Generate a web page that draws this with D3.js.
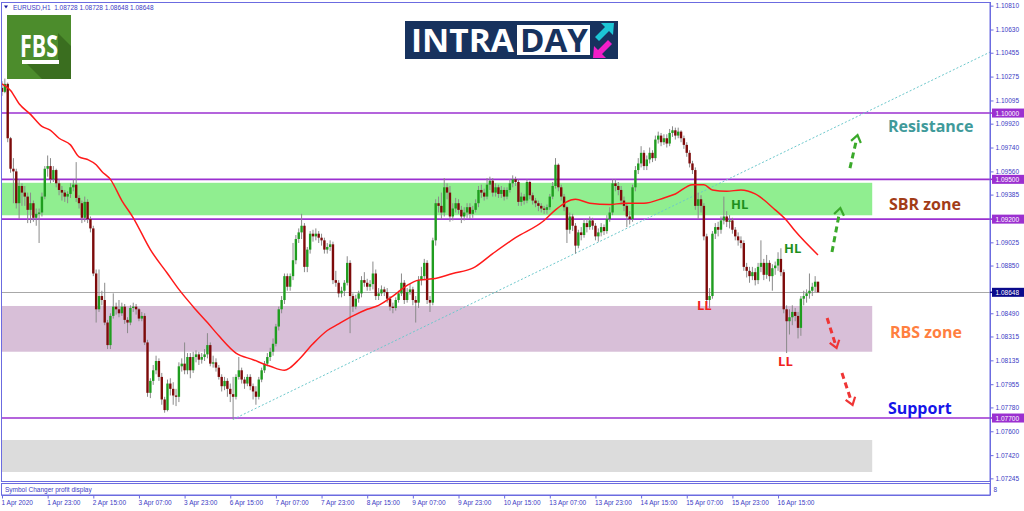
<!DOCTYPE html>
<html><head><meta charset="utf-8">
<script src="https://cdn.jsdelivr.net/npm/d3@7"></script>
<style>html,body{margin:0;padding:0;background:#fff}svg{display:block}</style>
</head><body>
<svg id="chart" width="1024" height="511"></svg>
<script>
// ---------------- DATA ----------------
const symbolTitle = "EURUSD,H1  1.08728 1.08728 1.08648 1.08648";
const subWindowTitle = "Symbol Changer profit display";
const subWindowScale = "8";
const firstOpen = 1.1019;
const closes = [
1.1016,1.1022,1.0981,1.0958,1.0956,1.0932,1.0945,1.0940,1.0937,1.0927,
1.0932,1.0921,1.0924,1.0925,1.0937,1.0958,1.0960,1.0950,1.0957,1.0947,
1.0942,1.0940,1.0937,1.0939,1.0944,1.0946,1.0936,1.0932,1.0921,1.0933,
1.0920,1.0913,1.0879,1.0852,1.0862,1.0859,1.0842,1.0825,1.0847,1.0854,
1.0852,1.0849,1.0854,1.0844,1.0842,1.0853,1.0854,1.0852,1.0845,1.0847,
1.0827,1.0789,1.0798,1.0806,1.0813,1.0801,1.0784,1.0776,1.0796,1.0792,
1.0787,1.0786,1.0809,1.0811,1.0806,1.0816,1.0806,1.0816,1.0818,1.0814,
1.0816,1.0818,1.0825,1.0811,1.0812,1.0808,1.0801,1.0794,1.0798,1.0792,
1.0788,1.0786,1.0801,1.0806,1.0799,1.0796,1.0801,1.0794,1.0790,1.0786,
1.0799,1.0806,1.0811,1.0816,1.0820,1.0826,1.0839,1.0852,1.0859,1.0877,
1.0869,1.0877,1.0889,1.0905,1.0910,1.0915,1.0884,1.0897,1.0909,1.0907,
1.0909,1.0906,1.0904,1.0897,1.0899,1.0901,1.0874,1.0872,1.0864,1.0866,
1.0872,1.0887,1.0862,1.0854,1.0860,1.0864,1.0874,1.0872,1.0869,1.0871,
1.0879,1.0862,1.0864,1.0867,1.0865,1.0860,1.0854,1.0853,1.0859,1.0864,
1.0872,1.0859,1.0865,1.0867,1.0859,1.0857,1.0874,1.0877,1.0887,1.0859,
1.0857,1.0904,1.0932,1.0930,1.0925,1.0944,1.0940,1.0922,1.0928,1.0932,
1.0927,1.0922,1.0925,1.0929,1.0924,1.0927,1.0932,1.0942,1.0940,1.0937,
1.0946,1.0949,1.0940,1.0944,1.0939,1.0942,1.0937,1.0942,1.0947,1.0950,
1.0948,1.0933,1.0937,1.0934,1.0948,1.0938,1.0934,1.0932,1.0930,1.0928,
1.0927,1.0929,1.0937,1.0945,1.0961,1.0944,1.0937,1.0929,1.0912,1.0922,
1.0915,1.0900,1.0910,1.0908,1.0917,1.0914,1.0919,1.0915,1.0907,1.0910,
1.0914,1.0911,1.0920,1.0925,1.0947,1.0945,1.0942,1.0934,1.0930,1.0922,
1.0920,1.0944,1.0957,1.0962,1.0970,1.0960,1.0965,1.0970,1.0966,1.0980,
1.0983,1.0978,1.0981,1.0977,1.0985,1.0987,1.0983,1.0986,1.0981,1.0976,
1.0970,1.0962,1.0957,1.0930,1.0935,1.0930,1.0907,1.0859,1.0862,1.0909,
1.0914,1.0912,1.0919,1.0922,1.0918,1.0919,1.0912,1.0907,1.0904,1.0902,
1.0884,1.0881,1.0877,1.0880,1.0874,1.0884,1.0887,1.0878,1.0887,1.0877,
1.0883,1.0885,1.0890,1.0880,1.0852,1.0843,1.0846,1.0850,1.0847,1.0838,
1.0860,1.0862,1.0864,1.0866,1.0869,1.08728,1.08648];
const highs = [
1.1024,1.1026,1.1023,1.0982,1.0966,1.0958,1.0950,1.0947,1.0945,1.0940,
1.0940,1.0934,1.0928,1.0928,1.0940,1.0960,1.0968,1.0966,1.0960,1.0958,
1.0950,1.0945,1.0942,1.0941,1.0947,1.0950,1.0963,1.0938,1.0934,1.0937,
1.0935,1.0922,1.0915,1.0882,1.0882,1.0866,1.0872,1.0844,1.0849,1.0864,
1.0857,1.0859,1.0857,1.0856,1.0846,1.0855,1.0857,1.0856,1.0853,1.0850,
1.0849,1.0829,1.0800,1.0810,1.0817,1.0815,1.0804,1.0786,1.0799,1.0800,
1.0797,1.0792,1.0812,1.0815,1.0827,1.0819,1.0819,1.0820,1.0821,1.0820,
1.0819,1.0822,1.0834,1.0827,1.0817,1.0815,1.0810,1.0803,1.0801,1.0800,
1.0796,1.0801,1.0803,1.0816,1.0808,1.0801,1.0803,1.0803,1.0796,1.0794,
1.0801,1.0808,1.0813,1.0819,1.0823,1.0830,1.0841,1.0854,1.0862,1.0879,
1.0879,1.0879,1.0902,1.0908,1.0913,1.0924,1.0917,1.0899,1.0911,1.0912,
1.0913,1.0911,1.0909,1.0906,1.0902,1.0904,1.0903,1.0881,1.0874,1.0869,
1.0874,1.0892,1.0889,1.0864,1.0863,1.0866,1.0877,1.0880,1.0875,1.0874,
1.0888,1.0882,1.0868,1.0870,1.0869,1.0868,1.0862,1.0857,1.0861,1.0866,
1.0879,1.0874,1.0868,1.0871,1.0869,1.0862,1.0877,1.0884,1.0890,1.0889,
1.0862,1.0906,1.0935,1.0937,1.0940,1.0951,1.0947,1.0945,1.0932,1.0936,
1.0935,1.0930,1.0929,1.0932,1.0932,1.0930,1.0935,1.0945,1.0946,1.0943,
1.0951,1.0952,1.0951,1.0947,1.0946,1.0945,1.0944,1.0944,1.0950,1.0953,
1.0952,1.0950,1.0940,1.0939,1.0950,1.0949,1.0940,1.0936,1.0934,1.0932,
1.0930,1.0931,1.0939,1.0948,1.0966,1.0962,1.0946,1.0939,1.0930,1.0925,
1.0924,1.0917,1.0912,1.0914,1.0920,1.0920,1.0922,1.0921,1.0917,1.0913,
1.0917,1.0916,1.0923,1.0929,1.0950,1.0950,1.0948,1.0945,1.0937,1.0932,
1.0926,1.0946,1.0960,1.0966,1.0975,1.0972,1.0968,1.0974,1.0972,1.0983,
1.0986,1.0985,1.0984,1.0984,1.0988,1.0990,1.0989,1.0989,1.0987,1.0983,
1.0978,1.0972,1.0964,1.0959,1.0940,1.0938,1.0932,1.0909,1.0868,1.0911,
1.0917,1.0918,1.0922,1.0937,1.0926,1.0923,1.0921,1.0914,1.0910,1.0907,
1.0904,1.0887,1.0884,1.0884,1.0883,1.0887,1.0904,1.0890,1.0893,1.0889,
1.0886,1.0888,1.0895,1.0898,1.0882,1.0855,1.0852,1.0855,1.0853,1.0850,
1.0862,1.0866,1.0867,1.0879,1.0872,1.0877,1.08728];
const lows = [
1.1013,1.1015,1.0978,1.0955,1.0932,1.0928,1.0920,1.0930,1.0930,1.0917,
1.0917,1.0918,1.0915,1.0902,1.0922,1.0935,1.0952,1.0947,1.0948,1.0944,
1.0938,1.0934,1.0933,1.0932,1.0936,1.0941,1.0933,1.0928,1.0917,1.0918,
1.0917,1.0910,1.0877,1.0842,1.0850,1.0855,1.0840,1.0822,1.0822,1.0845,
1.0848,1.0846,1.0847,1.0841,1.0834,1.0840,1.0850,1.0848,1.0843,1.0843,
1.0825,1.0786,1.0785,1.0795,1.0803,1.0798,1.0780,1.0774,1.0775,1.0787,
1.0780,1.0779,1.0782,1.0805,1.0803,1.0803,1.0800,1.0804,1.0812,1.0810,
1.0811,1.0813,1.0815,1.0809,1.0808,1.0805,1.0799,1.0790,1.0791,1.0786,
1.0782,1.0769,1.0784,1.0799,1.0796,1.0792,1.0794,1.0791,1.0784,1.0780,
1.0784,1.0797,1.0804,1.0809,1.0813,1.0817,1.0824,1.0836,1.0849,1.0856,
1.0866,1.0866,1.0874,1.0886,1.0902,1.0905,1.0880,1.0880,1.0894,1.0903,
1.0904,1.0902,1.0900,1.0894,1.0894,1.0896,1.0871,1.0869,1.0861,1.0861,
1.0862,1.0870,1.0834,1.0850,1.0852,1.0857,1.0861,1.0869,1.0866,1.0866,
1.0867,1.0859,1.0859,1.0862,1.0862,1.0857,1.0851,1.0849,1.0851,1.0857,
1.0862,1.0856,1.0857,1.0863,1.0855,1.0842,1.0853,1.0870,1.0874,1.0856,
1.0850,1.0855,1.0900,1.0925,1.0920,1.0922,1.0935,1.0918,1.0919,1.0925,
1.0924,1.0917,1.0919,1.0921,1.0920,1.0921,1.0925,1.0929,1.0936,1.0934,
1.0935,1.0942,1.0937,1.0937,1.0936,1.0936,1.0934,1.0935,1.0940,1.0944,
1.0945,1.0930,1.0930,1.0931,1.0932,1.0935,1.0931,1.0929,1.0926,1.0925,
1.0924,1.0924,1.0927,1.0935,1.0943,1.0941,1.0934,1.0926,1.0902,1.0909,
1.0911,1.0894,1.0898,1.0904,1.0906,1.0910,1.0912,1.0912,1.0904,1.0903,
1.0907,1.0908,1.0909,1.0918,1.0923,1.0941,1.0938,1.0931,1.0926,1.0914,
1.0916,1.0918,1.0941,1.0954,1.0959,1.0957,1.0957,1.0962,1.0963,1.0964,
1.0977,1.0975,1.0976,1.0974,1.0975,1.0982,1.0980,1.0981,1.0978,1.0973,
1.0967,1.0959,1.0954,1.0927,1.0920,1.0925,1.0904,1.0856,1.0853,1.0860,
1.0905,1.0907,1.0909,1.0916,1.0914,1.0913,1.0909,1.0904,1.0900,1.0898,
1.0881,1.0876,1.0872,1.0874,1.0870,1.0871,1.0880,1.0874,1.0875,1.0873,
1.0866,1.0878,1.0881,1.0877,1.0849,1.0819,1.0833,1.0840,1.0843,1.0830,
1.0832,1.0855,1.0857,1.0860,1.0862,1.0865,1.08648];

// moving average (red line), read at selected bars
const maBars   = [0,3,6,10,14,17,20,24,27,30,33,35,38,42,46,52,58,62,67,72,76,82,88,94,99,101,104,109,114,118,123,128,132,137,142,146,151,158,165,172,180,190,194,201,206,213,218,225,232,236,242,246,249,254,259,264,271,275,278,286];
const maValues = [1.1022,1.1017,1.1007,1.0999,1.0990,1.0987,1.0981,1.0976,1.0967,1.0965,1.0961,1.0956,1.0950,1.0934,1.0921,1.0897,1.0879,1.0867,1.0854,1.0842,1.0832,1.0819,1.0814,1.0809,1.0806,1.0808,1.0814,1.0826,1.0836,1.0841,1.0847,1.0852,1.0855,1.0862,1.0870,1.0874,1.0875,1.0879,1.0883,1.0894,1.0906,1.0919,1.0927,1.0935,1.0932,1.0931,1.0932,1.0932,1.0936,1.0939,1.0946,1.0946,1.0942,1.0941,1.0942,1.0939,1.0927,1.0919,1.0911,1.0893];

// horizontal levels
const levelValues = [1.10000, 1.09500, 1.09200, 1.07700];
const lastPrice = 1.08648;

// zones (price bands) and their right end (bar index)
const zoneNames = ["SBR", "RBS", "Grey"];
const zoneLow   = [1.09229, 1.08200, 1.07293];
const zoneHigh  = [1.09474, 1.08545, 1.07534];
const zoneEndBar = 305;

// trend line (dotted) – two anchor points in bar/price
const trendBars = [81, 290];
const trendPrices = [1.07690, 1.09872];

// price scale ticks (those hidden behind the coloured boxes are left out)
const priceTicks = [1.10810,1.10630,1.10455,1.10275,1.10095,1.09920,1.09740,1.09560,1.09385,1.09025,1.08850,1.08490,1.08315,1.08135,1.07955,1.07780,1.07600,1.07420,1.07245];

// time axis ticks
const timeTickBars = [0,16,32,48,64,80,96,112,128,144,160,176,192,208,224,240,256,272];
const timeTickLabels = ["1 Apr 2020","1 Apr 23:00","2 Apr 15:00","3 Apr 07:00","3 Apr 23:00","6 Apr 15:00","7 Apr 07:00","7 Apr 23:00","8 Apr 15:00","9 Apr 07:00","9 Apr 23:00","10 Apr 15:00","13 Apr 07:00","13 Apr 23:00","14 Apr 15:00","15 Apr 07:00","15 Apr 23:00","16 Apr 15:00"];

// annotations (text anchored at bar / price)
const annoTexts  = ["Resistance","SBR zone","RBS zone","Support","HL","HL","LL","LL"];
const annoBars   = [310.5, 310.9, 311.2, 310.5, 255.5, 274.1, 243.6, 272.0];
const annoPrices = [1.09902, 1.09314, 1.08349, 1.07775, 1.09314, 1.08982, 1.08552, 1.08130];

// dashed scenario arrows
const arrowKinds       = ["up","up","down","down"];
const arrowStartBars   = [297.2, 290.9, 289.2, 294.4];
const arrowStartPrices = [1.09585, 1.08952, 1.08454, 1.08039];
const arrowEndBars     = [299.7, 293.7, 292.3, 297.9];
const arrowEndPrices   = [1.09819, 1.09269, 1.08243, 1.07813];

// ---------------- STYLE ----------------
const C = {
  frame:"#6b6be0", axisText:"#3b3bc4", bull:"#1f9d1f", bear:"#7d0a0a", wick:"#8a8a8a",
  level:"#9b30d0", lastBox:"#0a0a8c", lastLine:"#a8a8a8", ma:"#ff1a1a", trend:"#6cc8cc",
  zone:["#90ee90","#d8bfd8","#dcdcdc"],
  anno:["#409a9a","#a23c17","#ff7f40","#1515e8","#1e8f1e","#1e8f1e","#f02020","#f02020"],
  annoSize:[16,16,16,16,13,13,13,13],
  arrowUp:"#3aa92a", arrowDown:"#ef3535"
};

// ---------------- LAYOUT ----------------
const P = {left:2, right:990, top:3, bottom:481, subBottom:495};
const lastBar = closes.length - 1;
const x = d3.scaleLinear().domain([0, lastBar]).range([2, 818]);
const y = d3.scaleLinear().domain([1.07225, 1.10830]).range([P.bottom, P.top]);

const svg = d3.select("#chart");
svg.append("defs").append("clipPath").attr("id","plot")
  .append("rect").attr("x",P.left).attr("y",P.top).attr("width",P.right-P.left).attr("height",P.bottom-P.top);

const g = svg.append("g").attr("clip-path","url(#plot)");

// zones
g.selectAll("rect.zone").data(zoneNames).enter().append("rect")
  .attr("class","zone")
  .attr("x", P.left).attr("width", (d,i)=>x(zoneEndBar)-P.left)
  .attr("y", (d,i)=>y(zoneHigh[i])).attr("height",(d,i)=>y(zoneLow[i])-y(zoneHigh[i]))
  .attr("fill",(d,i)=>C.zone[i]);

// last price line
g.append("line").attr("x1",P.left).attr("x2",P.right)
  .attr("y1",Math.round(y(lastPrice))+0.5).attr("y2",Math.round(y(lastPrice))+0.5)
  .attr("stroke",C.lastLine).attr("stroke-width",1);

// levels
g.selectAll("line.level").data(levelValues).enter().append("line")
  .attr("x1",P.left).attr("x2",P.right)
  .attr("y1",d=>y(d)).attr("y2",d=>y(d))
  .attr("stroke",C.level).attr("stroke-width",1.6);

// trend line (ray)
const tSlope = (trendPrices[1]-trendPrices[0])/(trendBars[1]-trendBars[0]);
const tEndBar = x.invert(P.right);
g.append("line")
  .attr("x1",x(trendBars[0])).attr("y1",y(trendPrices[0]))
  .attr("x2",x(tEndBar)).attr("y2",y(trendPrices[0]+tSlope*(tEndBar-trendBars[0])))
  .attr("stroke",C.trend).attr("stroke-width",1).attr("stroke-dasharray","2,2");

// candles
const opens = closes.map((c,i)=> i===0 ? firstOpen : closes[i-1]);
const idx = d3.range(closes.length);
const cg = g.append("g");
cg.selectAll("line.wick").data(idx).enter().append("line")
  .attr("x1",i=>x(i)).attr("x2",i=>x(i))
  .attr("y1",i=>y(Math.max(highs[i],opens[i],closes[i])))
  .attr("y2",i=>y(Math.min(lows[i],opens[i],closes[i])))
  .attr("stroke",C.wick).attr("stroke-width",1);
cg.selectAll("rect.body").data(idx).enter().append("rect")
  .attr("x",i=>x(i)-1.2).attr("width",2.4)
  .attr("y",i=>y(Math.max(opens[i],closes[i])))
  .attr("height",i=>Math.max(1,Math.abs(y(opens[i])-y(closes[i]))))
  .attr("fill",i=>closes[i]>=opens[i]?C.bull:C.bear);

// moving average
g.append("path").datum(d3.range(maBars.length))
  .attr("d",d3.line().x(i=>x(maBars[i])).y(i=>y(maValues[i])).curve(d3.curveMonotoneX))
  .attr("fill","none").attr("stroke",C.ma).attr("stroke-width",1.5);

// annotation texts
g.selectAll("text.anno").data(annoTexts).enter().append("text")
  .attr("x",(d,i)=>x(annoBars[i])).attr("y",(d,i)=>y(annoPrices[i]))
  .attr("dominant-baseline","central")
  .attr("font-family","'Open Sans', 'Noto Sans', sans-serif").attr("font-weight",700)
  .attr("font-size",(d,i)=>C.annoSize[i]).attr("fill",(d,i)=>C.anno[i])
  .text(d=>d);

// arrows
arrowKinds.forEach((k,i)=>{
  const x1=x(arrowStartBars[i]), y1=y(arrowStartPrices[i]), x2=x(arrowEndBars[i]), y2=y(arrowEndPrices[i]);
  const col = k==="up"?C.arrowUp:C.arrowDown;
  const dx=x2-x1, dy=y2-y1, L=Math.hypot(dx,dy), ux=dx/L, uy=dy/L, nx=-uy, ny=ux;
  g.append("line").attr("x1",x1).attr("y1",y1).attr("x2",x2-ux*3).attr("y2",y2-uy*3)
    .attr("stroke",col).attr("stroke-width",3).attr("stroke-dasharray","6,4");
  const hx=x2+ux*2, hy=y2+uy*2;
  g.append("polyline").attr("points",[[hx-ux*7+nx*5,hy-uy*7+ny*5],[hx,hy],[hx-ux*7-nx*5,hy-uy*7-ny*5]].map(p=>p.join(",")).join(" "))
    .attr("fill","none").attr("stroke",col).attr("stroke-width",2.2);
});

// frame
svg.append("rect").attr("x",1.5).attr("y",2.5).attr("width",P.right-1.5).attr("height",P.bottom-2.5+0.5)
  .attr("fill","none").attr("stroke",C.frame).attr("stroke-width",1);
svg.append("rect").attr("x",1.5).attr("y",P.bottom+2.5).attr("width",P.right-1.5).attr("height",P.subBottom-P.bottom-2.5)
  .attr("fill","none").attr("stroke",C.frame).attr("stroke-width",1);

// price axis
const yAxis = d3.axisRight(y).tickValues(priceTicks).tickSize(3).tickPadding(2).tickFormat(d3.format(".5f"));
const ya = svg.append("g").attr("transform",`translate(${P.right+0.5},0)`).call(yAxis);
ya.select(".domain").attr("stroke",C.frame).attr("d",`M0,${P.top-1}V${P.subBottom}`);
ya.selectAll(".tick line").attr("stroke",C.frame);
ya.selectAll("text").attr("fill",C.axisText).attr("font-family","'Liberation Sans',Arial,sans-serif").attr("font-size",6.5);

// highlighted price boxes
const boxes = levelValues.map(v=>({v,col:C.level})).concat([{v:lastPrice,col:C.lastBox}]);
const bg = svg.append("g");
boxes.forEach(b=>{
  const yy=y(b.v);
  bg.append("rect").attr("x",P.right+2).attr("y",yy-4.5).attr("width",32).attr("height",9).attr("fill",b.col);
  bg.append("line").attr("x1",P.right).attr("x2",P.right+3).attr("y1",yy).attr("y2",yy).attr("stroke",b.col).attr("stroke-width",1.5);
  bg.append("text").attr("x",P.right+5.5).attr("y",yy).attr("dominant-baseline","central")
    .attr("fill","#fff").attr("font-family","'Liberation Sans',Arial,sans-serif").attr("font-size",6.5)
    .text(d3.format(".5f")(b.v));
});

// sub window scale label
svg.append("text").attr("x",P.right+3.5).attr("y",(P.bottom+P.subBottom)/2+1.5).attr("dominant-baseline","central")
  .attr("fill",C.axisText).attr("font-family","'Liberation Sans',Arial,sans-serif").attr("font-size",6.5)
  .text(subWindowScale);

// time axis
const xAxis = d3.axisBottom(x).tickValues(timeTickBars).tickSize(3).tickPadding(2)
  .tickFormat((d,i)=>timeTickLabels[i]);
const xa = svg.append("g").attr("transform",`translate(0,${P.subBottom+0.5})`).call(xAxis);
xa.select(".domain").attr("stroke",C.frame).attr("d",`M1.5,0H${P.right+0.5}`);
xa.selectAll(".tick line").attr("stroke",C.frame);
xa.selectAll("text").attr("fill",C.axisText).attr("text-anchor","start").attr("dx",-1)
  .attr("font-family","'Liberation Sans',Arial,sans-serif").attr("font-size",6.5);

// sub window title
svg.append("text").attr("x",5).attr("y",(P.bottom+P.subBottom)/2+1.5).attr("dominant-baseline","central")
  .attr("fill",C.axisText).attr("font-family","'Liberation Sans',Arial,sans-serif").attr("font-size",6.5)
  .text(subWindowTitle);

// header
svg.append("path").attr("d","M4,5.5L8,5.5L6,8.5Z").attr("fill","#1a1aa0");
svg.append("text").attr("x",13).attr("y",7.5).attr("dominant-baseline","central")
  .attr("fill",C.axisText).attr("font-family","'Liberation Sans',Arial,sans-serif").attr("font-size",6.5)
  .attr("xml:space","preserve").text(symbolTitle);

// FBS logo
const fbs = svg.append("g");
fbs.append("rect").attr("x",7).attr("y",15).attr("width",64).attr("height",64).attr("fill","#4c8c2c");
fbs.append("path").attr("d","M58,33L71,46L71,79L42,79L23,60L58,60Z").attr("fill","#3a6e1f");
fbs.append("text").attr("x",39).attr("y",57).attr("text-anchor","middle")
  .attr("font-family","'Open Sans','Liberation Sans',sans-serif").attr("font-weight",700).attr("font-size",31)
  .attr("textLength",38).attr("lengthAdjust","spacingAndGlyphs").attr("fill","#fff").text("FBS");
fbs.append("rect").attr("x",22).attr("y",60).attr("width",37).attr("height",4).attr("fill","#fff");

// INTRADAY logo
const it = svg.append("g");
it.append("rect").attr("x",405).attr("y",21).attr("width",213).attr("height",38).attr("fill","#17325e");
it.append("rect").attr("x",517).attr("y",25).attr("width",73).attr("height",30).attr("fill","#fff");
it.append("text").attr("x",411).attr("y",52).attr("font-family","'Open Sans','Liberation Sans',sans-serif")
  .attr("font-weight",700).attr("font-size",33).attr("textLength",103).attr("lengthAdjust","spacingAndGlyphs")
  .attr("fill","#fff").text("INTRA");
it.append("text").attr("x",520).attr("y",52).attr("font-family","'Open Sans','Liberation Sans',sans-serif")
  .attr("font-weight",700).attr("font-size",33).attr("textLength",68).attr("lengthAdjust","spacingAndGlyphs")
  .attr("fill","#17325e").text("DAY");
it.append("path").attr("d","M614,23L613,35L609,31L599,41L595,37L605,27L601,23Z").attr("fill","#1cc6d6");
it.append("path").attr("d","M593,58L594,46L598,50L608,40L612,44L602,54L606,58Z").attr("fill","#f21ec8");
</script>
</body></html>
